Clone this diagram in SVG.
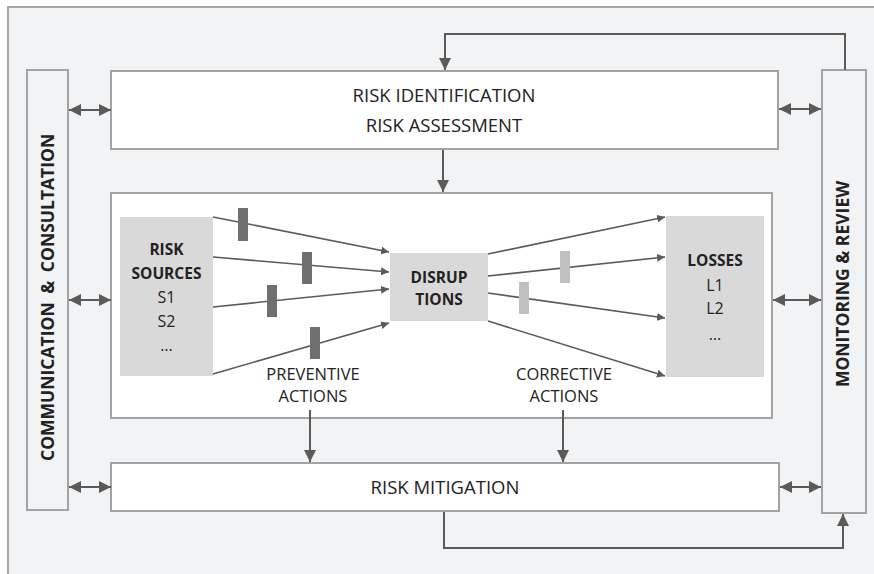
<svg xmlns="http://www.w3.org/2000/svg" width="874" height="574" viewBox="0 0 874 574">
<defs>
<style>
.frame{fill:#f2f3f4;stroke:#a8a8a8;stroke-width:2}
.panel{fill:#f2f3f4;stroke:#a3a3a3;stroke-width:2}
.box{fill:#ffffff;stroke:#a3a3a3;stroke-width:2}
.gbox{fill:#d9d9d9;stroke:none}
.c{fill:none;stroke:#5a5a5a;stroke-width:2}
.ci{fill:none;stroke:#5a5a5a;stroke-width:1.6}
.bd{fill:#707070}
.bl{fill:#c0c0c0}
text{font-family:"Open Sans","Liberation Sans",sans-serif;fill:#222222;text-anchor:middle}
.t18{font-size:18.5px}
.side{font-size:17.5px;font-weight:bold}
.b15{font-size:15.5px;font-weight:bold}
.r15{font-size:16px}
.r16{font-size:16.5px}
</style>
<marker id="ah" viewBox="0 0 12 12" refX="12" refY="6" markerWidth="12" markerHeight="12" markerUnits="userSpaceOnUse" orient="auto-start-reverse">
<path d="M0,0 L12,6 L0,12 z" fill="#5a5a5a"/>
</marker>
<marker id="as" viewBox="0 0 8 8" refX="8" refY="4" markerWidth="8" markerHeight="8" markerUnits="userSpaceOnUse" orient="auto">
<path d="M0,0 L8,4 L0,8 z" fill="#5a5a5a"/>
</marker>
</defs>

<rect class="frame" x="8" y="7" width="872" height="572"/>

<g id="communication">
<rect class="panel" x="27" y="70" width="41" height="440"/>
<text class="side" style="text-anchor:start" transform="translate(54,461) rotate(-90)" word-spacing="4">COMMUNICATION &amp; CONSULTATION</text>
</g>

<g id="monitoring">
<rect class="panel" x="822" y="70" width="44" height="443"/>
<text class="side" transform="translate(849,284) rotate(-90)">MONITORING &amp; REVIEW</text>
</g>

<g id="risk-identification">
<rect class="box" x="111" y="71" width="667" height="78"/>
<text class="t18" x="444" y="102">RISK IDENTIFICATION</text>
<text class="t18" x="444" y="132">RISK ASSESSMENT</text>
</g>

<g id="process">
<rect class="box" x="111" y="193" width="661" height="225"/>
</g>

<g id="risk-mitigation">
<rect class="box" x="111" y="463" width="668" height="48"/>
<text class="t18" x="445" y="494">RISK MITIGATION</text>
</g>

<g id="risk-sources">
<rect class="gbox" x="120" y="217" width="93" height="159"/>
<text class="b15" x="166.5" y="255">RISK</text>
<text class="b15" x="166.5" y="279">SOURCES</text>
<text class="r15" x="166.5" y="303">S1</text>
<text class="r15" x="166.5" y="327">S2</text>
<text class="r15" x="166.5" y="351">…</text>
</g>

<g id="disruptions">
<rect class="gbox" x="390" y="253" width="98" height="68"/>
<text class="b15" x="439" y="283">DISRUP</text>
<text class="b15" x="439" y="305">TIONS</text>
</g>

<g id="losses">
<rect class="gbox" x="666" y="216" width="98" height="161"/>
<text class="b15" x="715" y="266">LOSSES</text>
<text class="r15" x="715" y="291">L1</text>
<text class="r15" x="715" y="314">L2</text>
<text class="r15" x="715" y="340">…</text>
</g>

<g id="preventive-label">
<text class="r16" x="313" y="380">PREVENTIVE</text>
<text class="r16" x="313" y="402">ACTIONS</text>
</g>

<g id="corrective-label">
<text class="r16" x="564" y="380">CORRECTIVE</text>
<text class="r16" x="564" y="402">ACTIONS</text>
</g>

<g id="connectors">
<line class="c" x1="69" y1="110" x2="111" y2="110" marker-start="url(#ah)" marker-end="url(#ah)"/>
<line class="c" x1="69" y1="300" x2="111" y2="300" marker-start="url(#ah)" marker-end="url(#ah)"/>
<line class="c" x1="69" y1="487" x2="111" y2="487" marker-start="url(#ah)" marker-end="url(#ah)"/>
<line class="c" x1="779" y1="109" x2="821" y2="109" marker-start="url(#ah)" marker-end="url(#ah)"/>
<line class="c" x1="773" y1="300" x2="821" y2="300" marker-start="url(#ah)" marker-end="url(#ah)"/>
<line class="c" x1="780" y1="487" x2="821" y2="487" marker-start="url(#ah)" marker-end="url(#ah)"/>
<polyline class="c" points="845,70 845,34 445,34 445,70" marker-end="url(#ah)"/>
<polyline class="c" points="444,512 444,548 843,548 843,514" marker-end="url(#ah)"/>
<line class="c" x1="443" y1="150" x2="443" y2="192" marker-end="url(#ah)"/>
<line class="c" x1="310" y1="410" x2="310" y2="462" marker-end="url(#ah)"/>
<line class="c" x1="563" y1="410" x2="563" y2="462" marker-end="url(#ah)"/>
<line class="ci" x1="213" y1="217" x2="389" y2="252" marker-end="url(#as)"/>
<line class="ci" x1="213" y1="257" x2="389" y2="272" marker-end="url(#as)"/>
<line class="ci" x1="213" y1="307" x2="389" y2="289" marker-end="url(#as)"/>
<line class="ci" x1="213" y1="374" x2="389" y2="323" marker-end="url(#as)"/>
<line class="ci" x1="488" y1="254" x2="665" y2="217" marker-end="url(#as)"/>
<line class="ci" x1="488" y1="276" x2="665" y2="257" marker-end="url(#as)"/>
<line class="ci" x1="488" y1="293" x2="665" y2="318" marker-end="url(#as)"/>
<line class="ci" x1="488" y1="321" x2="665" y2="376" marker-end="url(#as)"/>
<rect class="bd" x="238" y="208" width="10" height="33"/>
<rect class="bd" x="302" y="252" width="10" height="32"/>
<rect class="bd" x="267" y="285" width="10" height="32"/>
<rect class="bd" x="310" y="327" width="10" height="32"/>
<rect class="bl" x="560" y="251" width="10" height="32"/>
<rect class="bl" x="519" y="282" width="10" height="32"/>
</g>
</svg>
